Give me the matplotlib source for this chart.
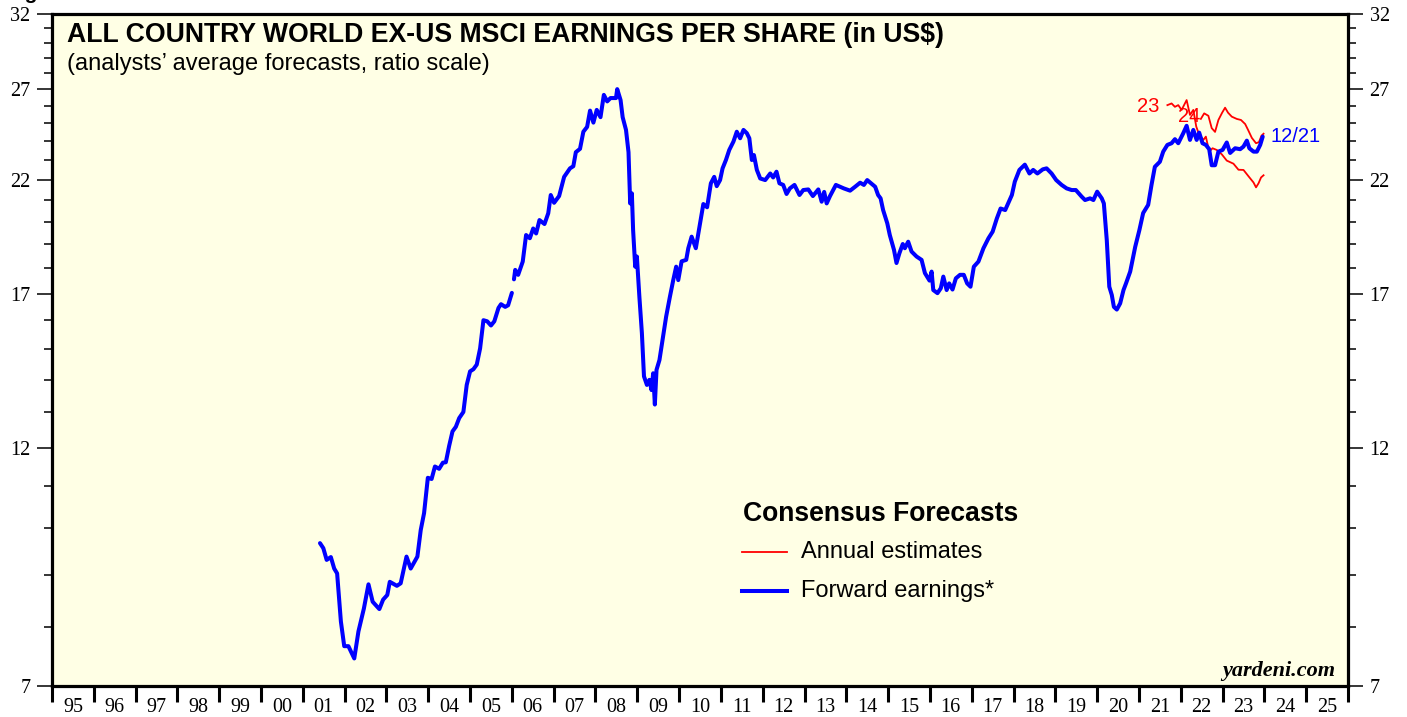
import numpy as np
import matplotlib
matplotlib.use("Agg")
import matplotlib.pyplot as plt
from matplotlib.lines import Line2D
from matplotlib.ticker import FixedLocator, NullFormatter, FixedFormatter

# ---------------- data ----------------
# Forward earnings (blue); NaN marks the small gap in the series in early 2006
fwd_years = [
    2001.41, 2001.49, 2001.57, 2001.67, 2001.75, 2001.82, 2001.91, 2001.99, 2002.09, 2002.23,
    2002.33, 2002.46, 2002.57, 2002.67, 2002.83, 2002.92, 2003.02, 2003.08, 2003.25, 2003.34,
    2003.48, 2003.58, 2003.74, 2003.82, 2003.90, 2003.99, 2004.08, 2004.16, 2004.26, 2004.35,
    2004.42, 2004.50, 2004.58, 2004.66, 2004.74, 2004.84, 2004.92, 2005.00, 2005.08, 2005.16,
    2005.24, 2005.32, 2005.41, 2005.50, 2005.58, 2005.68, 2005.74, 2005.84, 2005.91, 2006.00,
    2006.02,
    2006.05, 2006.08, 2006.15, 2006.26, 2006.34, 2006.43, 2006.51, 2006.58, 2006.66, 2006.78,
    2006.87, 2006.93, 2007.01, 2007.13, 2007.25, 2007.39, 2007.47, 2007.53, 2007.63, 2007.71,
    2007.80, 2007.87, 2007.95, 2008.03, 2008.12, 2008.20, 2008.28, 2008.36, 2008.49, 2008.52,
    2008.60, 2008.65, 2008.73, 2008.79, 2008.83, 2008.87, 2008.90, 2008.95, 2008.99, 2009.05,
    2009.11, 2009.16, 2009.23, 2009.29, 2009.34, 2009.38, 2009.42, 2009.46, 2009.53, 2009.61,
    2009.69, 2009.78, 2009.86, 2009.93, 2009.98, 2010.06, 2010.17, 2010.22, 2010.30, 2010.40,
    2010.50, 2010.58, 2010.67, 2010.76, 2010.84, 2010.90, 2010.98, 2011.04, 2011.12, 2011.20,
    2011.30, 2011.38, 2011.46, 2011.54, 2011.62, 2011.68, 2011.74, 2011.79, 2011.86, 2011.94,
    2012.06, 2012.18, 2012.25, 2012.33, 2012.40, 2012.49, 2012.57, 2012.65, 2012.76, 2012.88,
    2012.97, 2013.09, 2013.20, 2013.33, 2013.41, 2013.47, 2013.53, 2013.61, 2013.75, 2013.85,
    2013.94, 2014.09, 2014.21, 2014.33, 2014.42, 2014.50, 2014.61, 2014.69, 2014.76, 2014.82,
    2014.88, 2014.98, 2015.04, 2015.14, 2015.20, 2015.27, 2015.35, 2015.40, 2015.48, 2015.56,
    2015.68, 2015.80, 2015.88, 2015.99, 2016.04, 2016.08, 2016.18, 2016.26, 2016.32, 2016.40,
    2016.46, 2016.54, 2016.62, 2016.72, 2016.81, 2016.89, 2016.97, 2017.05, 2017.16, 2017.28,
    2017.40, 2017.50, 2017.60, 2017.69, 2017.80, 2017.87, 2017.96, 2018.03, 2018.14, 2018.27,
    2018.38, 2018.47, 2018.57, 2018.70, 2018.79, 2018.91, 2019.02, 2019.15, 2019.27, 2019.39,
    2019.49, 2019.63, 2019.71, 2019.83, 2019.91, 2020.00, 2020.11, 2020.16, 2020.23, 2020.29,
    2020.35, 2020.40, 2020.47, 2020.55, 2020.63, 2020.69, 2020.79, 2020.91, 2021.01, 2021.10,
    2021.22, 2021.30, 2021.38, 2021.50, 2021.58, 2021.68, 2021.78, 2021.86, 2021.94, 2022.06,
    2022.14, 2022.22, 2022.30, 2022.38, 2022.44, 2022.52, 2022.60, 2022.68, 2022.74, 2022.82,
    2022.90, 2023.00, 2023.10, 2023.18, 2023.30, 2023.42, 2023.50, 2023.58, 2023.64, 2023.74,
    2023.82, 2023.90, 2023.96,
]
fwd_eps = [
    9.67, 9.56, 9.31, 9.37, 9.13, 9.03, 8.10, 7.66, 7.66, 7.45,
    7.92, 8.34, 8.81, 8.47, 8.33, 8.51, 8.60, 8.86, 8.78, 8.83,
    9.38, 9.13, 9.38, 9.96, 10.35, 11.21, 11.18, 11.50, 11.44, 11.60,
    11.61, 12.05, 12.45, 12.58, 12.83, 13.01, 13.83, 14.26, 14.33, 14.48,
    15.02, 16.01, 15.97, 15.82, 15.97, 16.46, 16.60, 16.50, 16.56, 17.03,
    np.nan,
    17.56, 17.94, 17.74, 18.28, 19.41, 19.27, 19.70, 19.48, 20.08, 19.90,
    20.39, 21.25, 20.88, 21.20, 22.14, 22.57, 22.68, 23.41, 23.59, 24.52,
    24.79, 25.72, 25.03, 25.76, 25.34, 26.65, 26.26, 26.46, 26.46, 27.00,
    26.34, 25.34, 24.62, 23.41, 20.85, 21.33, 19.63, 18.07, 18.49, 16.88,
    15.55, 14.10, 13.83, 13.99, 13.67, 14.20, 13.23, 14.31, 14.63, 15.37,
    16.14, 16.88, 17.53, 18.07, 17.53, 18.29, 18.35, 18.84, 19.34, 18.84,
    19.93, 20.82, 20.67, 21.82, 22.14, 21.68, 21.98, 22.57, 23.00, 23.53,
    23.98, 24.52, 24.16, 24.62, 24.44, 24.16, 23.00, 23.26, 22.49, 22.06,
    21.98, 22.31, 22.11, 22.40, 21.82, 21.74, 21.30, 21.57, 21.74, 21.25,
    21.49, 21.52, 21.20, 21.52, 20.93, 21.40, 20.85, 21.20, 21.74, 21.65,
    21.57, 21.46, 21.65, 21.85, 21.74, 21.98, 21.79, 21.65, 21.25, 21.09,
    20.54, 19.93, 19.41, 18.77, 18.22, 18.63, 19.02, 18.84, 19.12, 18.70,
    18.49, 18.35, 17.81, 17.51, 17.87, 17.14, 17.02, 17.21, 17.67, 17.14,
    17.40, 17.16, 17.60, 17.74, 17.74, 17.40, 17.27, 18.07, 18.28, 18.84,
    19.27, 19.56, 20.15, 20.61, 20.54, 20.85, 21.25, 21.90, 22.49, 22.76,
    22.31, 22.49, 22.31, 22.52, 22.57, 22.31, 21.98, 21.74, 21.57, 21.49,
    21.49, 21.17, 21.01, 21.09, 21.01, 21.41, 21.09, 20.85, 19.19, 17.27,
    16.95, 16.50, 16.40, 16.63, 17.14, 17.40, 17.87, 18.90, 19.63, 20.40,
    20.78, 21.74, 22.65, 22.91, 23.44, 23.80, 23.89, 24.11, 23.89, 24.44,
    24.85, 24.07, 24.62, 24.07, 24.47, 23.89, 23.80, 23.57, 22.73, 22.73,
    23.44, 23.53, 23.93, 23.37, 23.62, 23.57, 23.71, 24.03, 23.62, 23.44,
    23.44, 23.80, 24.25,
]

# Annual consensus estimate for 2023 (red)
est23_years = [2021.68, 2021.78, 2021.86, 2021.94, 2022.02, 2022.14, 2022.22, 2022.30,
               2022.37, 2022.44, 2022.54, 2022.60, 2022.68, 2022.76, 2022.86, 2022.98,
               2023.10, 2023.26, 2023.38, 2023.50, 2023.62, 2023.74, 2023.80, 2023.86,
               2023.92, 2023.98]
est23_eps = [26.04, 26.14, 25.94, 26.04, 25.76, 26.34, 25.47, 25.76,
             24.81, 24.35, 24.07, 24.25, 23.44, 23.62, 23.53, 23.30,
             22.97, 22.81, 22.50, 22.49, 22.17, 21.86, 21.62, 21.82,
             22.11, 22.22]

# Annual consensus estimate for 2024 (red)
est24_years = [2022.48, 2022.56, 2022.66, 2022.74, 2022.82, 2022.90, 2022.99, 2023.06,
               2023.13, 2023.22, 2023.34, 2023.44, 2023.54, 2023.61, 2023.70, 2023.80,
               2023.87, 2023.93, 2023.98]
est24_eps = [25.24, 25.56, 25.42, 24.72, 24.51, 25.18, 25.60, 25.89,
             25.60, 25.37, 25.24, 25.18, 24.95, 24.62, 24.18, 23.89,
             23.95, 24.30, 24.41]

year_ticks = list(range(1995, 2027))
year_labels = ["95", "96", "97", "98", "99", "00", "01", "02", "03", "04", "05",
               "06", "07", "08", "09", "10", "11", "12", "13", "14", "15", "16",
               "17", "18", "19", "20", "21", "22", "23", "24", "25"]
y_major = [7, 12, 17, 22, 27, 32]
y_labels = ["7", "12", "17", "22", "27", "32"]
y_minor = [v for v in range(8, 32) if v not in y_major]

# ---------------- figure ----------------
W, H = 1407, 717
fig = plt.figure(figsize=(W / 100, H / 100), dpi=100)
fig.patch.set_facecolor("white")

def fx(x):
    return x / W

def fy(y):
    return 1 - y / H

L, R, T, B = 52, 1348, 14, 686
ax = fig.add_axes([fx(L), fy(B), (R - L) / W, (B - T) / H])
ax.set_facecolor("#FFFFE5")

BLUE = "#0000FF"
RED = "#FF0000"

ax.plot(est23_years, est23_eps, color=RED, lw=1.3, zorder=3)
ax.plot(est24_years, est24_eps, color=RED, lw=1.3, zorder=3)
ax.plot(fwd_years, fwd_eps, color=BLUE, lw=2.9, zorder=4,
        solid_joinstyle="round", solid_capstyle="round")

ax.set_yscale("log")
ax.set_ylim(7, 32)
ax.set_xlim(1995, 2026)

ax.yaxis.set_major_locator(FixedLocator(y_major))
ax.yaxis.set_major_formatter(FixedFormatter(y_labels))
ax.yaxis.set_minor_locator(FixedLocator(y_minor))
ax.yaxis.set_minor_formatter(NullFormatter())

ax.xaxis.set_major_locator(FixedLocator(year_ticks))
ax.xaxis.set_major_formatter(NullFormatter())
ax.xaxis.set_minor_locator(FixedLocator([y + 0.5 for y in year_ticks[:-1]]))
ax.xaxis.set_minor_formatter(FixedFormatter(year_labels))

ax.tick_params(axis="y", which="major", direction="out", length=11, width=1.1,
               left=True, right=True, labelleft=True, labelright=True,
               labelsize=14.5, pad=4.5, labelfontfamily="Liberation Serif")
ax.tick_params(axis="y", which="minor", direction="out", length=5.5, width=1.1,
               left=True, right=True)
ax.tick_params(axis="x", which="major", direction="out", length=11.5, width=2.2,
               bottom=True, top=False)
ax.tick_params(axis="x", which="minor", length=0, bottom=True, top=False,
               labelsize=14.5, pad=9, labelfontfamily="Liberation Serif")

for s in ax.spines.values():
    s.set_linewidth(2.3)
    s.set_color("black")

# ---------------- texts ----------------
fig.text(fx(6), fy(-1), "Figure 3.", fontsize=15, fontweight="bold",
         family="Liberation Sans", va="baseline", ha="left")
fig.text(fx(67), fy(35), "ALL COUNTRY WORLD EX-US MSCI EARNINGS PER SHARE (in US$)",
         fontsize=19.2, fontweight="bold", family="Liberation Sans", va="center", ha="left")
fig.text(fx(67), fy(64), "(analysts\u2019 average forecasts, ratio scale)",
         fontsize=17, family="Liberation Sans", va="center", ha="left")

fig.text(fx(743), fy(514), "Consensus Forecasts", fontsize=19.1, fontweight="bold",
         family="Liberation Sans", va="center", ha="left")
fig.add_artist(Line2D([fx(742), fx(787)], [fy(552), fy(552)], color=RED, lw=1.3,
                      transform=fig.transFigure))
fig.add_artist(Line2D([fx(742), fx(787)], [fy(591), fy(591)], color=BLUE, lw=2.9,
                      transform=fig.transFigure))
fig.text(fx(801), fy(552), "Annual estimates", fontsize=17, family="Liberation Sans",
         va="center", ha="left")
fig.text(fx(801), fy(591), "Forward earnings*", fontsize=17, family="Liberation Sans",
         va="center", ha="left")

fig.text(fx(1137), fy(106), "23", fontsize=14.5, color=RED, family="Liberation Sans",
         va="center", ha="left")
fig.text(fx(1178), fy(116), "24", fontsize=14.5, color=RED, family="Liberation Sans",
         va="center", ha="left")
fig.text(fx(1271), fy(137), "12/21", fontsize=14.5, color=BLUE, family="Liberation Sans",
         va="center", ha="left")

fig.text(fx(1335), fy(671), "yardeni.com", fontsize=16, fontweight="bold", style="italic",
         family="Liberation Serif", va="center", ha="right")

fig.savefig("out.png", dpi=100, facecolor="white")
